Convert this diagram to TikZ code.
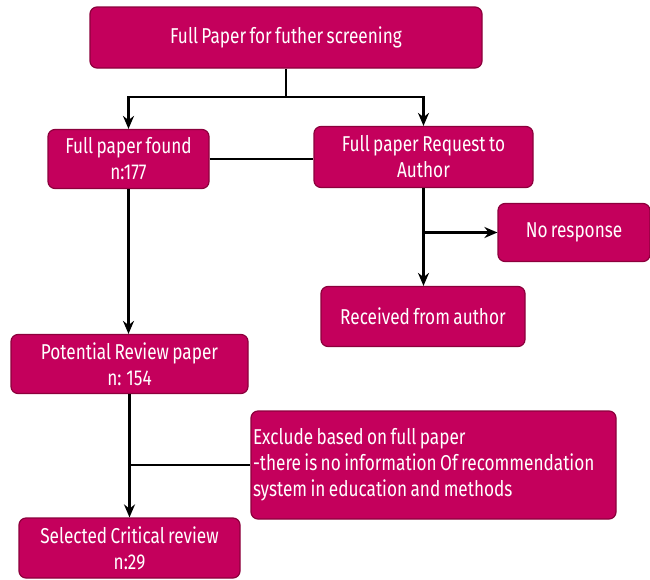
\documentclass[tikz,border=0pt]{standalone}
\usepackage{fontspec}
\setmainfont[FakeStretch=0.8,WordSpace=0.75]{Fira Sans}
\usetikzlibrary{arrows.meta}
\definecolor{boxfill}{RGB}{196,0,92}
\definecolor{boxline}{RGB}{140,0,60}
\tikzset{
  pbox/.style={draw=boxline, line width=1.2pt, fill=boxfill, rounded corners=7pt,
    text=white, font=\fontsize{21.5}{26}\selectfont, align=center, inner sep=2pt},
  conn/.style={line width=2.6pt, black},
  arr/.style={conn, -{Stealth[length=13pt,width=11pt]}}
}
\begin{document}
\begin{tikzpicture}[x=1pt,y=-1pt]
\useasboundingbox (0,0) rectangle (650,579);
\node[pbox, minimum width=392pt, minimum height=61pt] (top) at (286,37.5) {Full Paper for futher screening};
\node[pbox, minimum width=161pt, minimum height=59pt] (found) at (128.5,159) {Full paper found\\n:177};
\node[pbox, minimum width=219pt, minimum height=61pt] (req) at (423.5,157) {Full paper Request to\\Author};
\node[pbox, minimum width=152pt, minimum height=58pt] (nores) at (574,232.5) {No response};
\node[pbox, minimum width=204pt, minimum height=60pt] (recv) at (423,316.5) {Received from author};
\node[pbox, minimum width=237pt, minimum height=59pt] (pot) at (129.5,364) {Potential Review paper\\n: 154};
\node[pbox, minimum width=365pt, minimum height=108pt, align=flush left, text width=361pt, inner sep=2pt] (excl) at (433.5,465) {Exclude based on full paper\\-there is no information Of recommendation\\system in education and methods};
\node[pbox, minimum width=221pt, minimum height=60pt] (sel) at (129.5,548) {Selected Critical review\\n:29};
\coordinate (split) at (286,97);
\coordinate (splitL) at (128.5,97);
\coordinate (splitR) at (423.5,97);
\coordinate (nrj) at (423.5,232.5);
\coordinate (exj) at (129.5,465);
\draw[conn] (top.south) -- (split);
\draw[arr] (split) -- (splitL) -- (found.north);
\draw[arr] (split) -- (splitR) -- (req.north);
\draw[conn] (found.east) -- (found.east -| req.west);
\draw[arr] (req.south) -- (recv.north -| req.south);
\draw[arr] (nrj) -- (nores.west);
\draw[arr] (found.south) -- (pot.north -| found.south);
\draw[arr] (pot.south) -- (sel.north);
\draw[conn] (excl.west) -- (exj);
\end{tikzpicture}
\end{document}
